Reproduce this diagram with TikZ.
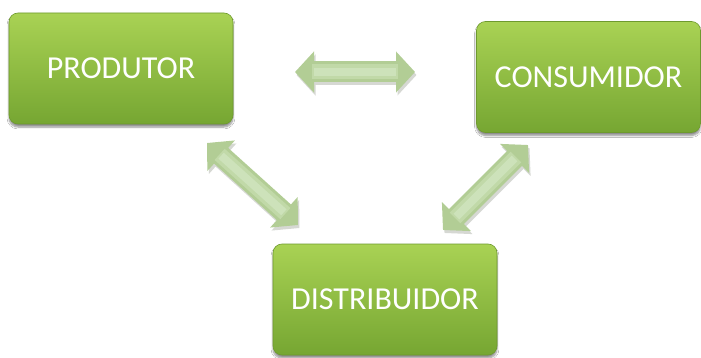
\documentclass[tikz,border=0pt]{standalone}
\usepackage{fontspec}
\setmainfont{Carlito}
\usetikzlibrary{arrows.meta,shadows.blur}

\definecolor{boxtop}{HTML}{A9D254}
\definecolor{boxbot}{HTML}{76A632}
\definecolor{boxedge}{HTML}{6E9A2E}
\definecolor{arrowfill}{HTML}{B2CD95}
\definecolor{arrowmid}{HTML}{C1D9A8}
\definecolor{arrowhi}{HTML}{CDE2BA}
\definecolor{arrowshadow}{HTML}{D6D8D3}

\tikzset{
  box/.style={rounded corners=9pt, minimum width=224pt, minimum height=111pt,
    top color=boxtop, bottom color=boxbot, draw=boxedge, line width=0.6pt,
    text=white, font=\fontsize{32}{38}\selectfont,
    blur shadow={shadow xshift=0pt, shadow yshift=-3pt, shadow blur steps=6, shadow opacity=45}},
  dblshadow/.style={line width=21pt, draw=arrowshadow,
    {Triangle[width=40pt,length=19pt]}-{Triangle[width=40pt,length=19pt]},
    transform canvas={shift={(1.5pt,-3pt)}}},
  dbl/.style={line width=21pt, draw=arrowfill,
    {Triangle[width=40pt,length=19pt]}-{Triangle[width=40pt,length=19pt]}},
  dblmid/.style={line width=15pt, draw=arrowmid,
    shorten <=17pt, shorten >=17pt},
  dblhi/.style={line width=8pt, draw=arrowhi,
    shorten <=19pt, shorten >=19pt},
}

\begin{document}
\begin{tikzpicture}[x=1pt, y=-1pt]
  % canvas
  \fill[white] (0,0) rectangle (701,358);

  % the three partners
  \node[box] (prod) at (121,68.5) {PRODUTOR};
  \node[box] (cons) at (588.5,77) {CONSUMIDOR};
  \node[box] (dist) at (385,299.5) {DISTRIBUIDOR};

  % end points of the block arrows
  \coordinate (pc1) at (295,72);
  \coordinate (pc2) at (415,72);
  \coordinate (pd1) at (207,143);
  \coordinate (pd2) at (298,225);
  \coordinate (cd1) at (528,145);
  \coordinate (cd2) at (443,230);

  % double block arrows: shadow, body, two lighter bands along the shaft
  \foreach \s/\e in {pc1/pc2, pd1/pd2, cd1/cd2} {
    \draw[dblshadow] (\s) -- (\e);
    \draw[dbl] (\s) -- (\e);
    \draw[dblmid] (\s) -- (\e);
    \draw[dblhi] (\s) -- (\e);
  }
\end{tikzpicture}
\end{document}
